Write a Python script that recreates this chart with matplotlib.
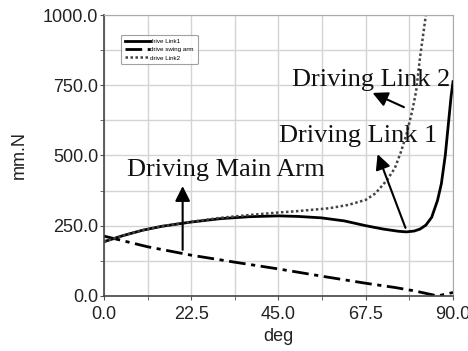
import matplotlib.pyplot as plt
import numpy as np

# drive Link1 (solid)
deg_l1 = [0, 5, 10, 15, 22.5, 30, 37.5, 45, 50, 56, 62, 67.5, 72, 76, 78, 80, 81.5, 83, 84.5, 86, 87, 88, 89, 89.5, 90]
val_l1 = [193, 215, 234, 248, 263, 275, 282, 285, 283, 278, 267, 250, 238, 230, 228, 231, 238, 252, 280, 340, 400, 500, 640, 710, 763]

# drive swing arm (dash-dot)
deg_sw = [0, 11.25, 22.5, 33.75, 45, 56.25, 67.5, 75, 80, 86, 90]
val_sw = [213, 175, 145, 120, 96, 70, 45, 30, 18, 0, 12]

# drive Link2 (dotted)
deg_l2 = [0, 5, 10, 15, 22.5, 30, 37.5, 45, 50, 58, 63, 67.5, 70, 73, 75, 76.5, 78, 79.5, 80.5, 81.5, 82.5, 83.2]
val_l2 = [193, 215, 234, 248, 264, 278, 288, 297, 302, 312, 324, 342, 365, 413, 455, 510, 575, 660, 730, 850, 950, 1020]

plt.rcParams['font.family'] = ['Liberation Sans', 'DejaVu Sans']

fig = plt.figure(figsize=(4.68, 3.51), dpi=100)
ax = fig.add_axes([0.222, 0.157, 0.746, 0.800])

ax.plot(deg_l1, val_l1, color='black', lw=2.0, label='drive Link1')
ax.plot(deg_sw, val_sw, color='black', lw=2.0, dashes=(6, 2, 1.5, 2), label='drive swing arm')
ax.plot(deg_l2, val_l2, color='#444444', lw=1.8, dashes=(1, 1), label='drive Link2')

ax.set_xlim(0, 90)
ax.set_ylim(0, 1000)
ax.set_xticks([0, 22.5, 45, 67.5, 90])
ax.set_xticklabels(['0.0', '22.5', '45.0', '67.5', '90.0'])
ax.set_yticks([0, 250, 500, 750, 1000])
ax.set_yticklabels(['0.0', '250.0', '500.0', '750.0', '1000.0'])
ax.set_xticks(np.arange(0, 91, 11.25), minor=True)
ax.set_yticks(np.arange(0, 1001, 125), minor=True)
ax.grid(True, which='both', color='#d4d4d4', lw=1)
ax.set_axisbelow(True)
ax.tick_params(labelsize=13, length=3, color='#555555', labelcolor='#222222', pad=1)
ax.tick_params(axis='x', pad=4)
ax.tick_params(which='minor', length=3, color='#555555')
for s in ['top', 'right']:
    ax.spines[s].set_color('#aaaaaa')
for s in ['left', 'bottom']:
    ax.spines[s].set_color('#444444')
    ax.spines[s].set_linewidth(1.2)

ax.set_xlabel('deg', fontsize=13, labelpad=4, color='#222222')
ax.set_ylabel('mm.N', fontsize=13, labelpad=11, color='#222222')

leg = ax.legend(loc='upper left', bbox_to_anchor=(0.04, 0.94), fontsize=4.5,
                handlelength=4, frameon=True, fancybox=True, edgecolor='#888888',
                borderpad=0.6, labelspacing=0.45, handletextpad=0.1)
leg.get_frame().set_linewidth(0.8)

tfont = dict(family='Liberation Serif', fontsize=19, color='#111111')
ax.text(6.0, 450, 'Driving Main Arm', ha='left', va='center', **tfont)
ax.text(45.2, 570, 'Driving Link 1', ha='left', va='center', **tfont)
ax.text(48.5, 770, 'Driving Link 2', ha='left', va='center', **tfont)

arr = dict(arrowstyle='-|>,head_length=0.9,head_width=0.45', color='black', lw=1.5)
ax.annotate('', xy=(20.3, 401), xytext=(20.3, 154), arrowprops=arr)
ax.annotate('', xy=(70.3, 514), xytext=(78.0, 233), arrowprops=arr)
ax.annotate('', xy=(68.6, 727), xytext=(78.0, 668), arrowprops=arr)

fig.savefig('out.png', dpi=100)
